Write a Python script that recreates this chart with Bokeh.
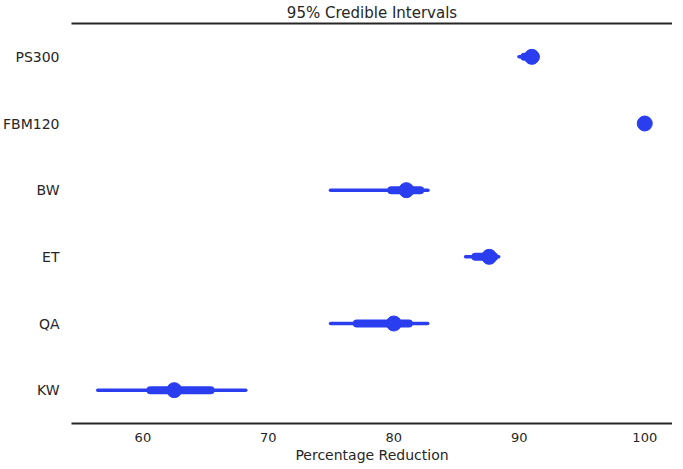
from bokeh.plotting import figure
from bokeh.models import LinearAxis, FixedTicker, Range1d, FactorRange
from bokeh.embed import file_html
from bokeh.resources import INLINE

# data (top to bottom)
groups = ["PS300", "FBM120", "BW", "ET", "QA", "KW"]
median = [91.0, 100.0, 81.0, 87.6, 80.0, 62.5]
hdi95_low = [89.97, 99.95, 74.95, 85.72, 74.96, 56.4]
hdi95_high = [91.4, 100.05, 82.72, 88.36, 82.7, 68.2]
iqr_low = [90.4, 99.98, 79.8, 86.5, 77.05, 60.6]
iqr_high = [91.3, 100.02, 82.1, 88.0, 81.2, 65.4]
x_ticks = [60, 70, 80, 90, 100]

BLUE = "#2a3ef0"
DARK = "#262626"
FONT = "DejaVu Sans"

p = figure(width=667, height=453, output_backend="svg", toolbar_location=None,
           x_range=Range1d(54.31, 102.21), y_range=FactorRange(*groups[::-1]),
           x_axis_location=None,
           title="95% Credible Intervals",
           min_border_left=66, min_border_right=0, min_border_top=2, min_border_bottom=2)
p.frame_width = 601
p.frame_height = 400

p.segment(x0=hdi95_low, x1=hdi95_high, y0=groups, y1=groups, line_color=BLUE,
          line_width=3.5, line_cap="round")
p.segment(x0=iqr_low, x1=iqr_high, y0=groups, y1=groups, line_color=BLUE,
          line_width=8, line_cap="round")
p.scatter(x=median, y=groups, size=15, fill_color=BLUE, line_color=BLUE)

p.title.align = "center"
p.title.text_font = FONT
p.title.text_font_size = "15px"
p.title.text_font_style = "normal"
p.title.text_color = DARK
p.title.standoff = 3
p.title.offset = 0

p.outline_line_color = None
p.xgrid.grid_line_color = None
p.ygrid.grid_line_color = None
p.background_fill_color = "white"
p.border_fill_color = "white"

# top rule
top = LinearAxis(ticker=FixedTicker(ticks=[]), axis_line_width=2, axis_line_color=DARK,
                 major_tick_line_color=None, minor_tick_line_color=None,
                 major_label_text_font_size="0px")
p.add_layout(top, "above")

xa = LinearAxis(ticker=FixedTicker(ticks=x_ticks))
xa.axis_label = "Percentage Reduction"
xa.axis_label_text_font = FONT
xa.axis_label_text_font_size = "14px"
xa.axis_label_text_font_style = "normal"
xa.axis_label_text_color = DARK
xa.axis_label_standoff = 2
xa.major_label_text_font = FONT
xa.major_label_text_font_size = "13px"
xa.major_label_text_color = DARK
xa.major_label_standoff = 3
xa.axis_line_width = 2
xa.axis_line_color = DARK
xa.major_tick_line_color = None
xa.minor_tick_line_color = None
p.add_layout(xa, "below")

ya = p.yaxis[0]
ya.axis_line_color = None
ya.major_tick_line_color = None
ya.minor_tick_line_color = None
ya.major_label_text_font = FONT
ya.major_label_text_font_size = "14px"
ya.major_label_text_color = DARK
ya.major_label_standoff = 6

open("out.html", "w").write(file_html(p, INLINE))
